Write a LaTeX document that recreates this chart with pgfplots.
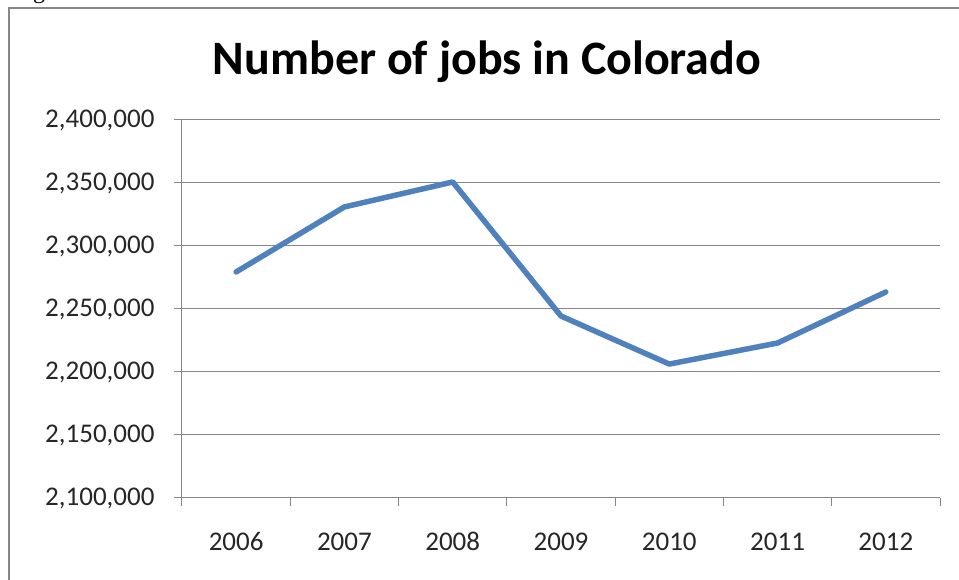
\documentclass[border=0pt]{standalone}
\usepackage{fontspec}
\setmainfont{Carlito}
\newfontfamily\serif{Liberation Serif}
\usepackage{pgfplots}
\pgfplotsset{compat=1.18}

\definecolor{xlblue}{RGB}{79,129,189}
\definecolor{xlgrid}{RGB}{134,134,134}

\begin{document}
\begin{tikzpicture}
\useasboundingbox (0pt,0pt) rectangle (959pt,580pt);
\clip (0pt,0pt) rectangle (959pt,580pt);
% fragment of the surrounding page text and chart frame
\node[anchor=base west, inner sep=0, font=\serif\fontsize{24}{28}\selectfont] at (33pt,581pt) {g};
\draw[xlgrid, line width=2pt] (9pt,-20pt) -- (9pt,572pt) -- (980pt,572pt);
% title
\node[anchor=base, inner sep=0, font=\bfseries\fontsize{48}{54}\selectfont] at (487pt,505pt) {Number of jobs in Colorado};

\begin{axis}[
    at={(182pt,82pt)}, anchor=south west,
    scale only axis,
    width=758pt, height=378pt,
    xmin=0.5, xmax=7.5,
    ymin=2100000, ymax=2400000,
    scaled y ticks=false,
    axis x line*=bottom, axis y line*=left,
    axis line style={xlgrid, line width=1pt},
    xtick={0.5,1.5,...,7.5},
    xticklabels={2006,2007,2008,2009,2010,2011,2012,{}},
    xticklabel style={xshift=54.14pt, yshift=-23pt},
    ytick={2100000,2150000,...,2400000},
    yticklabels={{2,100,000},{2,150,000},{2,200,000},{2,250,000},{2,300,000},{2,350,000},{2,400,000}},
    yticklabel style={xshift=-16pt},
    tick align=outside,
    major tick length=8pt,
    tick style={xlgrid, line width=1pt},
    ymajorgrids=true,
    grid style={xlgrid, line width=1pt},
    ticklabel style={font=\fontsize{27}{31}\selectfont, text=black!85},
    clip=false,
]
\addplot[xlblue, line width=5.5pt, line cap=round, line join=round] coordinates {
    (1, 2279400)
    (2, 2331000)
    (3, 2350800)
    (4, 2244400)
    (5, 2206300)
    (6, 2223000)
    (7, 2263500)
};
\end{axis}
\end{tikzpicture}
\end{document}
